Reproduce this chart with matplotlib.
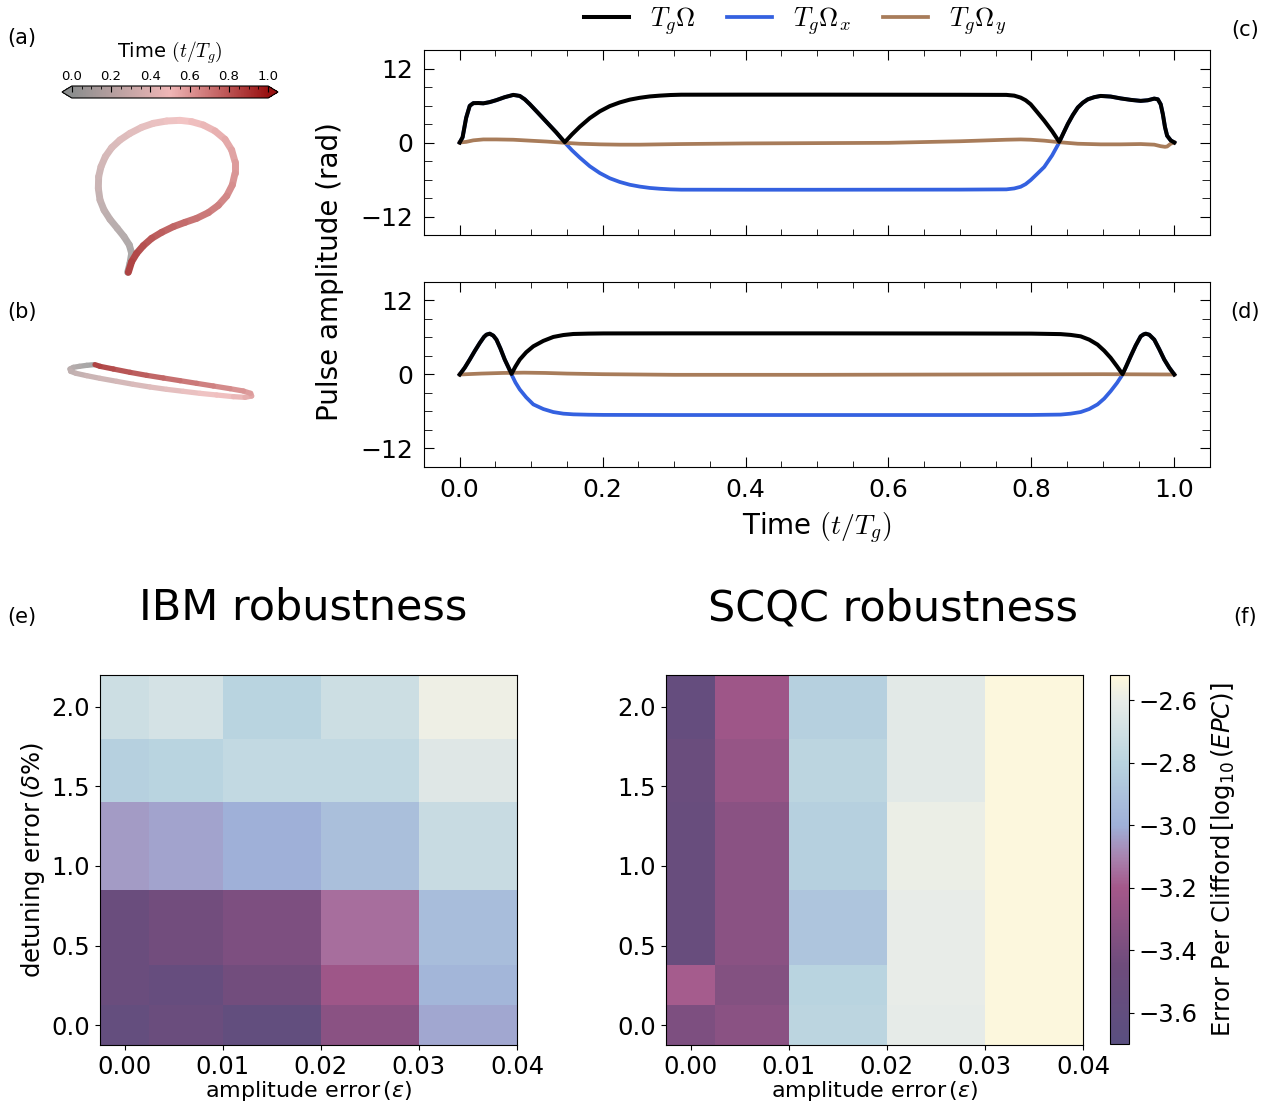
import numpy as np
import matplotlib
matplotlib.use('Agg')
import matplotlib.pyplot as plt
from matplotlib.colors import LinearSegmentedColormap, Normalize
from matplotlib.collections import LineCollection
from matplotlib.ticker import MultipleLocator, FixedLocator
from matplotlib.font_manager import FontProperties
import matplotlib.cm as cm

# ---------------- pulse (c): IBM pulse
t_c = [0, 0.004, 0.009, 0.014, 0.019, 0.026, 0.033, 0.042, 0.051, 0.063, 0.075, 0.084,
       0.091, 0.098, 0.110, 0.122, 0.135, 0.147, 0.157, 0.168, 0.182, 0.196, 0.210, 0.224,
       0.238, 0.252, 0.266, 0.280, 0.295, 0.310, 0.40, 0.50, 0.60, 0.70, 0.765, 0.776,
       0.785, 0.792, 0.799, 0.808, 0.818, 0.829, 0.839, 0.845, 0.851, 0.858, 0.865, 0.872,
       0.879, 0.888, 0.897, 0.911, 0.925, 0.940, 0.953, 0.963, 0.972, 0.977, 0.981, 0.984,
       0.987, 0.990, 0.995, 1.0]
omega_c = [0, 0.85, 4.0, 5.95, 6.38, 6.4, 6.35, 6.55, 6.86, 7.35, 7.72, 7.55,
           7.0, 6.22, 4.75, 3.26, 1.65, 0.05, 1.3, 2.55, 3.95, 5.05, 5.9, 6.5,
           6.95, 7.25, 7.47, 7.6, 7.7, 7.75, 7.76, 7.76, 7.75, 7.74, 7.72, 7.6,
           7.28, 6.85, 6.2, 4.95, 3.54, 1.85, 0.1, 1.55, 3.0, 4.45, 5.68, 6.45,
           7.0, 7.35, 7.55, 7.45, 7.15, 6.9, 6.75, 6.85, 7.12, 7.0, 6.2, 4.6,
           2.5, 1.1, 0.35, 0]
omega_x_c = [0, 0.85, 4.0, 5.95, 6.38, 6.4, 6.35, 6.55, 6.86, 7.35, 7.72, 7.55,
             7.0, 6.22, 4.75, 3.26, 1.65, 0.0, -1.25, -2.45, -3.85, -4.95, -5.8, -6.4,
             -6.85, -7.15, -7.37, -7.5, -7.6, -7.65, -7.66, -7.66, -7.65, -7.64, -7.6, -7.45,
             -7.18, -6.75, -6.1, -5.1, -3.97, -2.1, 0.0, 1.55, 3.0, 4.45, 5.68, 6.45,
             7.0, 7.35, 7.55, 7.45, 7.15, 6.9, 6.75, 6.85, 7.12, 7.0, 6.2, 4.6,
             2.5, 1.1, 0.35, 0]
t_cy = [0, 0.009, 0.019, 0.033, 0.051, 0.075, 0.098, 0.122, 0.147, 0.168, 0.196, 0.224,
        0.252, 0.28, 0.31, 0.4, 0.5, 0.6, 0.7, 0.765, 0.785, 0.799, 0.818, 0.839,
        0.865, 0.897, 0.925, 0.953, 0.972, 0.981, 0.987, 0.990, 0.995, 1.0]
omega_y_c = [0, 0.1, 0.35, 0.5, 0.5, 0.45, 0.3, 0.15, -0.05, -0.2, -0.3, -0.35,
             -0.35, -0.3, -0.25, -0.15, -0.1, -0.05, 0.2, 0.45, 0.5, 0.45, 0.3, 0.05,
             -0.2, -0.3, -0.3, -0.25, -0.35, -0.6, -0.7, -0.65, -0.2, 0]

# ---------------- pulse (d): SCQC pulse
t_d = [0, 0.007, 0.014, 0.021, 0.028, 0.034, 0.0374, 0.042, 0.047, 0.0514, 0.057, 0.063,
       0.068, 0.0725, 0.078, 0.084, 0.093, 0.103, 0.117, 0.131, 0.145, 0.159, 0.18, 0.201,
       0.3, 0.4, 0.5, 0.6, 0.7, 0.8, 0.841, 0.855, 0.869, 0.881, 0.8926, 0.902,
       0.911, 0.920, 0.9276, 0.933, 0.939, 0.946, 0.953, 0.957, 0.960, 0.965, 0.972, 0.979,
       0.986, 0.993, 1.0]
omega_d = [0, 1.1, 2.42, 3.8, 5.1, 6.1, 6.46, 6.62, 6.3, 5.65, 4.2, 2.42,
           1.2, 0.1, 1.3, 2.42, 3.6, 4.57, 5.45, 6.09, 6.4, 6.57, 6.63, 6.66,
           6.67, 6.67, 6.67, 6.66, 6.65, 6.63, 6.55, 6.42, 6.19, 5.65, 4.85, 3.85,
           2.7, 1.3, 0.05, 1.4, 2.96, 4.7, 6.19, 6.5, 6.62, 6.45, 5.65, 4.1,
           2.42, 1.1, 0]
omega_x_d = [0, 1.1, 2.42, 3.8, 5.1, 6.1, 6.46, 6.62, 6.3, 5.65, 4.2, 2.42,
             1.2, 0.0, -1.3, -2.42, -3.7, -4.85, -5.6, -6.09, -6.35, -6.46, -6.52, -6.55,
             -6.57, -6.57, -6.57, -6.57, -6.57, -6.56, -6.5, -6.35, -6.09, -5.6, -4.85, -3.9,
             -2.7, -1.35, 0.0, 1.4, 2.96, 4.7, 6.19, 6.5, 6.62, 6.45, 5.65, 4.1,
             2.42, 1.1, 0]
t_dy = [0, 0.03, 0.06, 0.09, 0.12, 0.15, 0.2, 0.3, 0.5, 0.7, 0.9, 1.0]
omega_y_d = [0, 0.15, 0.25, 0.3, 0.25, 0.15, 0.05, -0.05, -0.05, 0.0, 0.05, 0.0]

# ---------------- space curves (projected view, ordered in time)
curve_a_x = [383, 390, 395, 388, 372, 352, 330, 312, 300, 295, 296, 303, 316, 335, 360,
             390, 425, 460, 500, 540, 575, 610, 645, 675, 695, 705, 705, 697, 680, 655,
             625, 590, 555, 520, 485, 455, 430, 410, 395, 385]
curve_a_y = [757, 730, 700, 675, 650, 625, 598, 570, 540, 505, 470, 440, 410, 383, 360,
             340, 322, 310, 303, 301, 305, 315, 333, 358, 390, 425, 460, 495, 528, 556,
             578, 595, 607, 620, 637, 655, 677, 700, 725, 757]
curve_b_x = [282, 260, 238, 220, 210, 212, 228, 260, 300, 350, 400, 450, 500, 550, 600,
             650, 700, 735, 755, 752, 730, 690, 640, 590, 540, 490, 440, 390, 340, 300, 285]
curve_b_y = [224, 226, 229, 232, 237, 244, 250, 257, 265, 274, 283, 291, 298, 304, 310,
             315, 320, 322, 318, 310, 303, 296, 288, 280, 272, 264, 256, 247, 237, 229, 224]

# ---------------- robustness maps (rows: detuning, cols: amplitude)
amp_err = [0, 0.005, 0.015, 0.025, 0.035]
det_err = [0, 0.25, 0.5, 1.2, 1.6, 2.0]
epc_ibm = [[-3.58, -3.50, -3.60, -3.32, -3.02],
           [-3.50, -3.55, -3.43, -3.23, -2.97],
           [-3.50, -3.43, -3.38, -3.15, -2.93],
           [-3.05, -3.03, -3.00, -2.92, -2.74],
           [-2.82, -2.80, -2.76, -2.76, -2.64],
           [-2.72, -2.69, -2.80, -2.72, -2.58]]
epc_scqc = [[-3.38, -3.32, -2.79, -2.61, -2.53],
            [-3.19, -3.35, -2.80, -2.60, -2.53],
            [-3.52, -3.32, -2.88, -2.60, -2.53],
            [-3.52, -3.32, -2.82, -2.59, -2.53],
            [-3.50, -3.27, -2.79, -2.63, -2.53],
            [-3.56, -3.23, -2.82, -2.63, -2.53]]

W, H = 1269, 1104
fig = plt.figure(figsize=(W / 100, H / 100), dpi=100)


def px_axes(x0, y0, x1, y1):
    # axes from pixel box (top-left origin)
    return fig.add_axes([x0 / W, 1 - y1 / H, (x1 - x0) / W, (y1 - y0) / H])


cm_font = FontProperties(size=19, math_fontfamily='cm')
blue = '#3461e0'
brown = '#a87c5a'

# ---------------- pulse panels
ax_c = px_axes(424, 50, 1210, 235)
ax_d = px_axes(424, 282, 1210, 467)
for ax, t, om, omx, ty, omy in [(ax_c, t_c, omega_c, omega_x_c, t_cy, omega_y_c),
                                (ax_d, t_d, omega_d, omega_x_d, t_dy, omega_y_d)]:
    lx, = ax.plot(t, omx, color=blue, lw=2.7, zorder=2)
    ly, = ax.plot(ty, omy, color=brown, lw=2.7, zorder=3)
    lo, = ax.plot(t, om, color='black', lw=2.9, zorder=4)
    ax.set_xlim(-0.05, 1.05)
    ax.set_ylim(-15, 15)
    ax.xaxis.set_major_locator(MultipleLocator(0.2))
    ax.xaxis.set_minor_locator(MultipleLocator(0.05))
    ax.yaxis.set_major_locator(FixedLocator([-12, 0, 12]))
    ax.yaxis.set_minor_locator(MultipleLocator(3))
    ax.tick_params(which='both', direction='in', top=True, right=True, labelsize=18, pad=8)
    ax.tick_params(which='major', length=7)
    ax.tick_params(which='minor', length=4)
    ax.tick_params(axis='y', which='minor', length=6)
ax_c.tick_params(labelbottom=False)
ax_d.set_xlabel('Time $(t/T_g)$', fontsize=20, math_fontfamily='cm', labelpad=6)
fig.text(330 / W, 1 - 272 / H, 'Pulse amplitude (rad)', fontsize=20, rotation=90,
         ha='center', va='center')
fig.legend([lo, lx, ly], [r'$T_g\Omega$', r'$T_g\Omega_x$', r'$T_g\Omega_y$'],
           loc='center', bbox_to_anchor=(795 / W, 1 - 21 / H), ncol=3, frameon=False,
           prop=cm_font, handlelength=1.7, columnspacing=1.2, handletextpad=0.8)

# ---------------- space curves
time_cmap = LinearSegmentedColormap.from_list(
    'time', [(0.0, '#8c8e8e'), (0.5, '#efb6b6'), (1.0, '#981010')])


def draw_curve(ax, xs, ys, lw):
    pts = np.column_stack([xs, ys])
    segs = np.stack([pts[:-1], pts[1:]], axis=1)
    frac = (np.arange(len(segs)) + 0.5) / len(segs)
    cols = time_cmap(frac)
    cols[:, :3] = cols[:, :3] * 0.8 + 0.2
    lc = LineCollection(segs, colors=cols, linewidths=lw, capstyle='round', joinstyle='round')
    ax.add_collection(lc)


ax_a = px_axes(40, 105, 300, 300)
ax_a.set_xlim(120, 900)
ax_a.set_ylim(840, 255)
draw_curve(ax_a, curve_a_x, curve_a_y, 5.0)
ax_a.axis('off')

ax_b = px_axes(40, 340, 300, 420)
ax_b.set_xlim(120, 900)
ax_b.set_ylim(390, 150)
draw_curve(ax_b, curve_b_x, curve_b_y, 3.8)
ax_b.axis('off')

cax_t = px_axes(62, 86, 278, 98)
sm = cm.ScalarMappable(norm=Normalize(0, 1), cmap=time_cmap)
cb_t = fig.colorbar(sm, cax=cax_t, orientation='horizontal', extend='both')
cax_t.xaxis.set_ticks_position('top')
cax_t.xaxis.set_label_position('top')
cb_t.set_ticks([0, 0.2, 0.4, 0.6, 0.8, 1.0])
cax_t.xaxis.set_minor_locator(MultipleLocator(0.05))
cax_t.tick_params(which='both', direction='in', labelsize=9.5, pad=2)
cax_t.tick_params(which='major', length=4)
cax_t.tick_params(which='minor', length=2)
cb_t.set_label('Time $(t/T_g)$', fontsize=14, math_fontfamily='cm', labelpad=9)

# ---------------- robustness heatmaps
epc_cmap = LinearSegmentedColormap.from_list(
    'epc', [(0.0, '#5a4f80'), (0.212, '#6e4c7c'), (0.424, '#a5588a'), (0.508, '#a884b0'),
            (0.593, '#9fb0d8'), (0.763, '#b9d4e0'), (0.932, '#e8ece8'), (1.0, '#fff8dc')])
norm = Normalize(-3.7, -2.52)

ax_e = px_axes(100, 675, 517, 1045)
ax_f = px_axes(666, 675, 1083, 1045)
for ax, z in [(ax_e, epc_ibm), (ax_f, epc_scqc)]:
    mesh = ax.pcolormesh(amp_err, det_err, np.array(z), cmap=epc_cmap, norm=norm,
                         shading='nearest')
    ax.set_xticks([0, 0.01, 0.02, 0.03, 0.04])
    ax.set_yticks([0, 0.5, 1.0, 1.5, 2.0])
    ax.tick_params(labelsize=17.5)
    ax.set_xlabel(r'amplitude error$\,(\epsilon)$', fontsize=16, labelpad=0.5)
ax_e.set_ylabel(r'detuning error$\,(\delta\%)$', fontsize=17.5, labelpad=3)
fig.text(303 / W, 1 - 608 / H, 'IBM robustness', fontsize=31, ha='center', va='center')
fig.text(893 / W, 1 - 608 / H, 'SCQC robustness', fontsize=31, ha='center', va='center')

cax_e = px_axes(1110, 675, 1129, 1044)
cb = fig.colorbar(mesh, cax=cax_e)
cb.set_ticks([-3.6, -3.4, -3.2, -3.0, -2.8, -2.6])
cax_e.tick_params(labelsize=17.5)
cb.set_label(r'Error Per Clifford$\,[\log_{10}(EPC)]$', fontsize=17.5, labelpad=8)

# ---------------- panel letters
for lab, x, y in [('(a)', 22, 38), ('(b)', 22, 312), ('(c)', 1245, 30), ('(d)', 1245, 312),
                  ('(e)', 22, 617), ('(f)', 1245, 617)]:
    fig.text(x / W, 1 - y / H, lab, fontsize=15, ha='center', va='center')

fig.savefig('out.png', dpi=100)
